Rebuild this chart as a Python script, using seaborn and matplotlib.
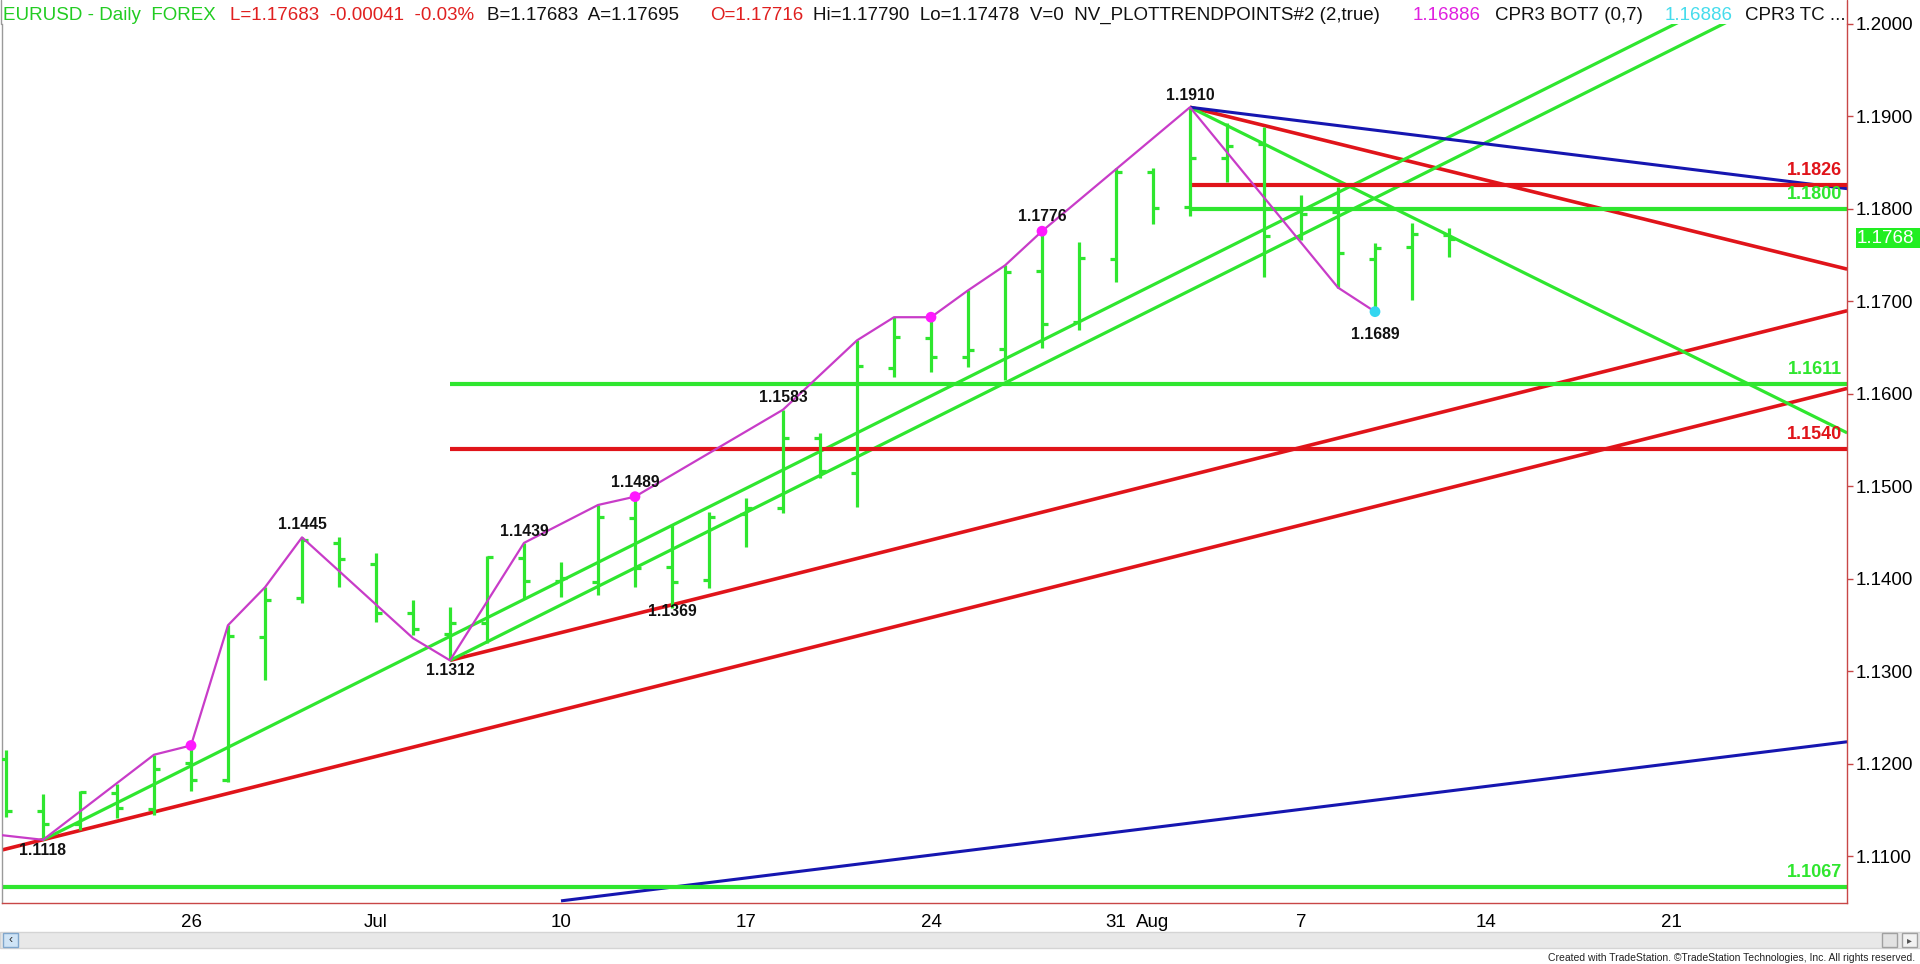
import matplotlib
matplotlib.use("Agg")
import matplotlib.pyplot as plt
import numpy as np
import pandas as pd
import seaborn as sns
from matplotlib.lines import Line2D
from matplotlib.patches import Rectangle

W, H = 1920, 964

# x = trading day index, 0 = Mon 26 Jun 2017
BAR_DAYS = list(range(-5, 35))
OPENS = [1.1205, 1.1149, 1.1135, 1.1169, 1.1151, 1.1201, 1.1183, 1.1337, 1.1379, 1.1439,
         1.1416, 1.1363, 1.1341, 1.1352, 1.1423, 1.1398, 1.1397, 1.1466, 1.1413, 1.1399,
         1.1470, 1.1477, 1.1552, 1.1515, 1.1628, 1.1661, 1.1640, 1.1649, 1.1733, 1.1678,
         1.1746, 1.1840, 1.1802, 1.1855, 1.1870, 1.1770, 1.1797, 1.1746, 1.1759, 1.1772]
HIGHS = [1.1215, 1.1168, 1.1171, 1.1178, 1.1210, 1.1220, 1.1350, 1.1391, 1.1445, 1.1445,
         1.1428, 1.1377, 1.1370, 1.1425, 1.1439, 1.1418, 1.1480, 1.1489, 1.1458, 1.1472,
         1.1488, 1.1583, 1.1558, 1.1658, 1.1683, 1.1683, 1.1712, 1.1739, 1.1776, 1.1764,
         1.1844, 1.1844, 1.1910, 1.1893, 1.1889, 1.1815, 1.1824, 1.1763, 1.1785, 1.1779]
LOWS = [1.1143, 1.1118, 1.1129, 1.1142, 1.1145, 1.1171, 1.1181, 1.1291, 1.1374, 1.1391,
        1.1354, 1.1339, 1.1312, 1.1331, 1.1379, 1.1381, 1.1383, 1.1391, 1.1369, 1.1390,
        1.1435, 1.1471, 1.1509, 1.1478, 1.1618, 1.1624, 1.1629, 1.1615, 1.1650, 1.1669,
        1.1721, 1.1784, 1.1792, 1.1829, 1.1726, 1.1766, 1.1715, 1.1689, 1.1702, 1.1748]
CLOSES = [1.1149, 1.1135, 1.1170, 1.1152, 1.1195, 1.1183, 1.1338, 1.1377, 1.1442, 1.1422,
          1.1363, 1.1346, 1.1352, 1.1424, 1.1398, 1.1401, 1.1467, 1.1412, 1.1397, 1.1467,
          1.1477, 1.1552, 1.1517, 1.1630, 1.1662, 1.1640, 1.1648, 1.1732, 1.1676, 1.1747,
          1.1840, 1.1801, 1.1855, 1.1868, 1.1771, 1.1795, 1.1752, 1.1758, 1.1773, 1.1768]

TICK_DAYS = [0, 5, 10, 15, 20, 25, 26, 30, 35, 40]
TICK_LABELS = ["26", "Jul", "10", "17", "24", "31", "Aug", "7", "14", "21"]
PRICE_TICKS = [1.11, 1.12, 1.13, 1.14, 1.15, 1.16, 1.17, 1.18, 1.19, 1.20]
LAST_PRICE = 1.1768

# swing line (NV_PLOTTRENDPOINTS)
ZIGZAG_DAYS = [-5.11, -4, -1, 0, 1, 2, 3, 6, 7, 9, 11, 12, 16, 18, 19, 20, 21, 22, 23, 27, 31, 32]
ZIGZAG_PRICES = [1.1123, 1.1118, 1.1210, 1.1220, 1.1350, 1.1391, 1.1445, 1.1336, 1.1312, 1.1439,
                 1.1480, 1.1489, 1.1583, 1.1658, 1.1683, 1.1683, 1.1712, 1.1739, 1.1776, 1.1910,
                 1.1715, 1.1689]
DOT_DAYS = [0, 12, 20, 23, 32]
DOT_PRICES = [1.1220, 1.1489, 1.1683, 1.1776, 1.1689]
DOT_KIND = ["top", "top", "top", "top", "bottom"]

PIVOT_LABELS = ["1.1118", "1.1445", "1.1312", "1.1439", "1.1489", "1.1369", "1.1583", "1.1776", "1.1910", "1.1689"]
PIVOT_DAYS = [-4, 3, 7, 9, 12, 13, 16, 23, 27, 32]
PIVOT_PRICES = [1.1118, 1.1445, 1.1312, 1.1439, 1.1489, 1.1369, 1.1583, 1.1776, 1.1910, 1.1689]

# sloped trend lines: (start day, start price, end day, end price)
GREEN_TRENDS = [(-4, 1.1118, 44.76, 1.2093), (7, 1.1312, 44.76, 1.2067), (27, 1.1910, 44.76, 1.1558)]
RED_TRENDS = [(-5.11, 1.1107, 44.76, 1.1606), (7, 1.1312, 44.76, 1.1690), (27, 1.1910, 44.76, 1.1735)]
BLUE_TRENDS = [(27, 1.1910, 44.76, 1.1822), (10, 1.1052, 44.76, 1.1224)]

# horizontal levels
LEVEL_PRICES = [1.1826, 1.1800, 1.1611, 1.1540, 1.1067]
LEVEL_START_DAYS = [27, 27, 7, 7, -5.11]
LEVEL_KIND = ["red", "green", "green", "red", "green"]

HEADER_TEXTS = ["EURUSD - Daily  FOREX", "L=1.17683  -0.00041  -0.03%", "B=1.17683  A=1.17695",
                "O=1.17716", "Hi=1.17790  Lo=1.17478  V=0  NV_PLOTTRENDPOINTS#2 (2,true)",
                "1.16886", "CPR3 BOT7 (0,7)", "1.16886", "CPR3 TC ..."]
HEADER_KIND = ["green", "red", "black", "red", "black", "magenta", "black", "cyan", "black"]

# ---- style / layout ----
GREEN = "#2fe62f"
RED = "#e0141a"
BLUE = "#1616b0"
ZIG = "#c83cc8"
AXIS_RED = "#c84646"
TEXT_COLORS = {"green": "#22cc22", "red": "#e02020", "black": "#111111",
               "magenta": "#e020e0", "cyan": "#45dcec"}
LINE_COLORS = {"red": RED, "green": GREEN}
HEADER_X = [3, 230, 487, 710, 813, 1413, 1495, 1665, 1745]
PIVOT_OFFSETS = [-11, 13, -10, 11, 14, -4, 12, 15, 12, -23]
X_LEFT, X_RIGHT = (2 - 191) / 37, (1847 - 191) / 37
Y_LOW, Y_HIGH = 1.10497, 1.2000


def fx(px):
    return px / W


def fy(py):
    return 1 - py / H


sns.set_style("white")
plt.rcParams["font.family"] = ["Liberation Sans", "DejaVu Sans"]

fig = plt.figure(figsize=(W / 100, H / 100), dpi=100)
ax = fig.add_axes([fx(2), fy(903), fx(1847) - fx(2), fy(24) - fy(903)])
ax.set_xlim(X_LEFT, X_RIGHT)
ax.set_ylim(Y_LOW, Y_HIGH)

# trend lines
for segs, color, lw in [(RED_TRENDS, RED, 2.6), (GREEN_TRENDS, GREEN, 2.3), (BLUE_TRENDS, BLUE, 2.2)]:
    for d0, p0, d1, p1 in segs:
        ax.plot([d0, d1], [p0, p1], color=color, lw=lw, solid_capstyle="butt", zorder=2)

for price, start, kind in zip(LEVEL_PRICES, LEVEL_START_DAYS, LEVEL_KIND):
    ax.hlines(price, start, X_RIGHT, colors=LINE_COLORS[kind], lw=3.0, zorder=2)
    ax.annotate(f"{price:.4f}", xy=(X_RIGHT, price), xytext=(-5, 6), textcoords="offset pixels",
                ha="right", va="bottom", fontsize=13, fontweight="bold",
                color=LINE_COLORS[kind], zorder=6)

# OHLC bars
bars = pd.DataFrame({"day": BAR_DAYS, "open": OPENS, "high": HIGHS, "low": LOWS, "close": CLOSES})
tick = 6 / 37
ax.vlines(bars["day"], bars["low"], bars["high"], colors=GREEN, lw=2.3, zorder=4)
ax.hlines(bars["open"], bars["day"] - tick, bars["day"], colors=GREEN, lw=2.3, zorder=4)
ax.hlines(bars["close"], bars["day"], bars["day"] + tick, colors=GREEN, lw=2.3, zorder=4)

# swing line and dots
zig = pd.DataFrame({"day": ZIGZAG_DAYS, "price": ZIGZAG_PRICES})
sns.lineplot(data=zig, x="day", y="price", color=ZIG, lw=1.6, sort=False, ax=ax, zorder=5)
dots = pd.DataFrame({"day": DOT_DAYS, "price": DOT_PRICES, "kind": DOT_KIND})
sns.scatterplot(data=dots, x="day", y="price", hue="kind",
                palette={"top": "#ff19ff", "bottom": "#33d6f0"}, s=60, edgecolor="none",
                legend=False, ax=ax, zorder=6)

for label, d, p, off in zip(PIVOT_LABELS, PIVOT_DAYS, PIVOT_PRICES, PIVOT_OFFSETS):
    ax.annotate(label, xy=(d, p), xytext=(0, off), textcoords="offset pixels",
                ha="center", va="center", fontsize=11.3, fontweight="bold", color="#111111", zorder=7)

# axes styling
ax.set_xlabel("")
ax.set_ylabel("")
ax.set_xticks(TICK_DAYS)
ax.set_xticklabels(TICK_LABELS)
ax.set_yticks(PRICE_TICKS)
ax.set_yticklabels([f"{p:.4f}" for p in PRICE_TICKS])
ax.yaxis.tick_right()
ax.tick_params(axis="y", direction="out", length=4.5, width=1, color=AXIS_RED,
               labelsize=13.5, labelcolor="black", pad=1.5)
ax.tick_params(axis="x", direction="out", length=4, width=1, color=AXIS_RED,
               labelsize=13.5, labelcolor="black", pad=4)
for side in ["top"]:
    ax.spines[side].set_visible(False)
ax.spines["right"].set_color(AXIS_RED)
ax.spines["bottom"].set_color(AXIS_RED)
ax.spines["left"].set_color("#9a9a9a")
for s in ax.spines.values():
    s.set_linewidth(1)

# right spine continues through header strip
fig.add_artist(Line2D([fx(1847), fx(1847)], [fy(24), 1], color=AXIS_RED, lw=1))
fig.add_artist(Line2D([fx(1), fx(1)], [fy(24), 1], color="#9a9a9a", lw=1))

# last price box
fig.add_artist(Rectangle((fx(1856), fy(248)), fx(1920) - fx(1856), fy(228) - fy(248),
                         facecolor="#22ee22", edgecolor="none"))
fig.text(fx(1857), fy(238.5), f"{LAST_PRICE:.4f}", color="white", fontsize=13.5, va="center", ha="left")

# header
for text, kind, xp in zip(HEADER_TEXTS, HEADER_KIND, HEADER_X):
    fig.text(fx(xp), fy(20), text, color=TEXT_COLORS[kind], fontsize=13.5, va="baseline", ha="left")

# scroll bar strip
fig.add_artist(Rectangle((0, fy(948)), 1, fy(932) - fy(948), facecolor="#e8e8e8", edgecolor="#d4d4d4", lw=1))
fig.add_artist(Rectangle((fx(3), fy(947)), fx(15), fy(933) - fy(947), facecolor="#cfe4f6", edgecolor="#7fa6cc", lw=1))
fig.text(fx(10.5), fy(940), "‹", fontsize=9, ha="center", va="center", color="#333333")
fig.add_artist(Rectangle((fx(1882), fy(947)), fx(15), fy(933) - fy(947), facecolor="#e2e2e2", edgecolor="#a0a0a0", lw=1))
fig.add_artist(Rectangle((fx(1902), fy(947)), fx(15), fy(933) - fy(947), facecolor="#f2f2f2", edgecolor="#a0a0a0", lw=1))
fig.text(fx(1909.5), fy(940), "▸", fontsize=7, ha="center", va="center", color="#555555")

fig.text(fx(1915), fy(958), "Created with TradeStation. ©TradeStation Technologies, Inc. All rights reserved.",
         fontsize=7.5, ha="right", va="center", color="#222222")

fig.savefig("out.png", dpi=100, facecolor="white")
